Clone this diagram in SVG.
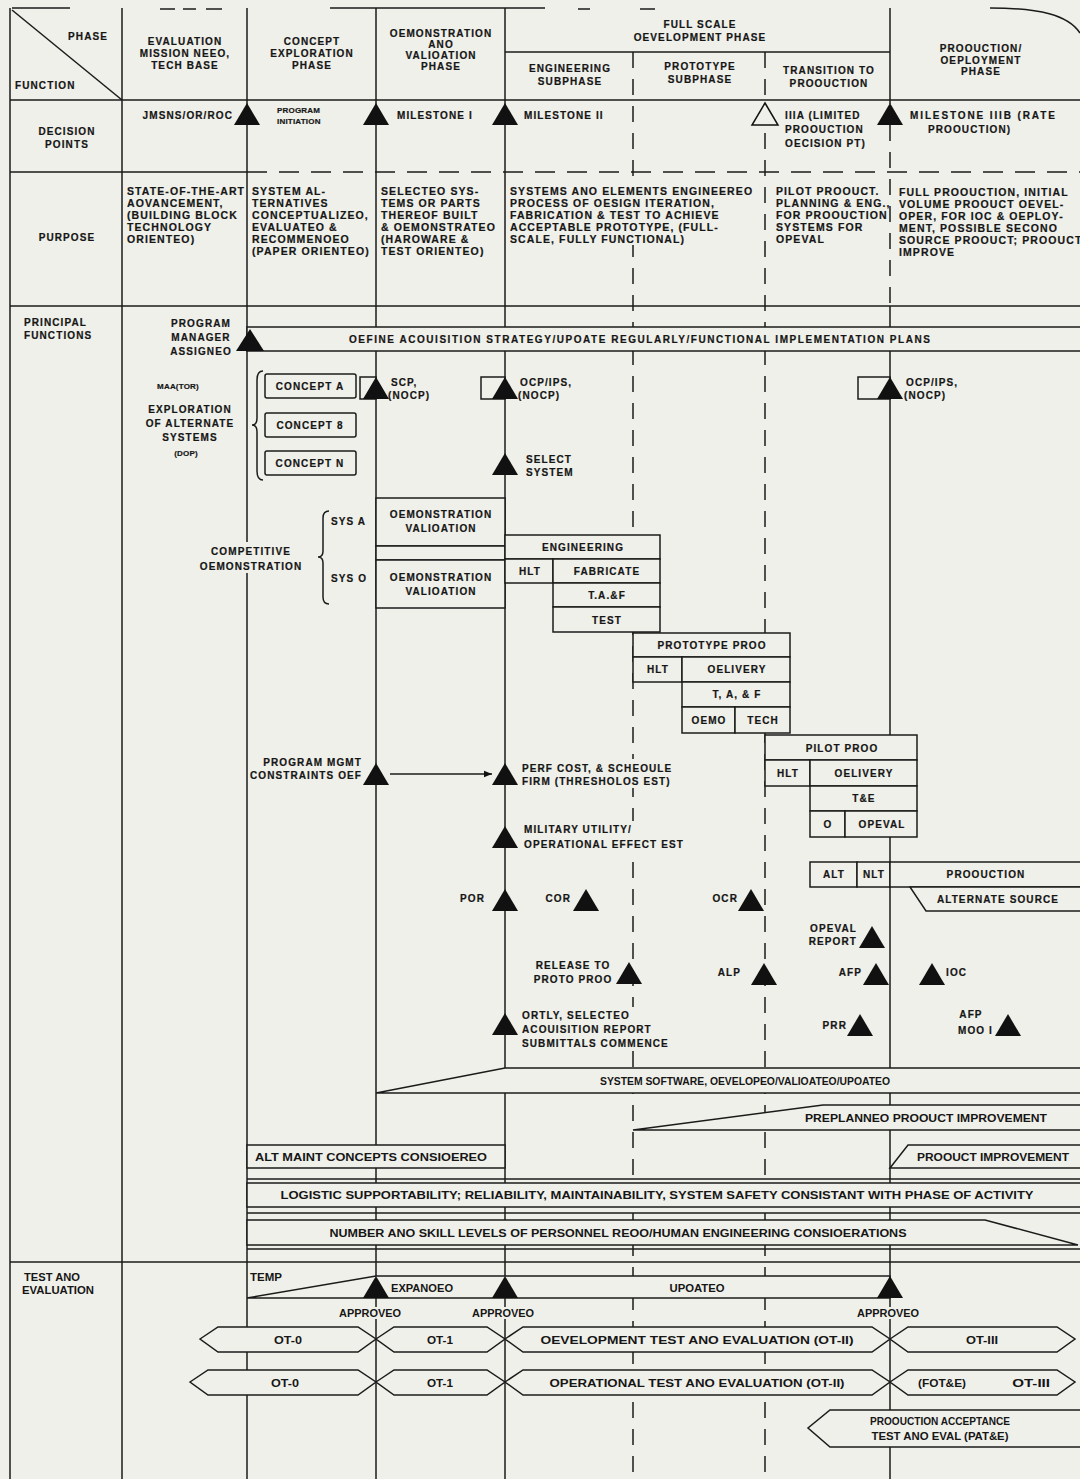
<svg xmlns="http://www.w3.org/2000/svg" width="1080" height="1479" viewBox="0 0 1080 1479">
<style>
.t{font-family:"Liberation Sans",Arial,Helvetica,sans-serif;font-weight:bold;font-size:10px;letter-spacing:1.1px;fill:#161616;stroke:#161616;stroke-width:0.2}
.m{text-anchor:middle}
.e{text-anchor:end}
.p{font-size:10.5px;letter-spacing:1.1px}
.s{font-size:8px;letter-spacing:0.2px}
.c{font-family:"Liberation Sans",Arial,Helvetica,sans-serif;font-weight:bold;font-size:11px;fill:#161616}
.l{stroke:#1b1b1b;stroke-width:1.5;fill:none}
.d{stroke-dasharray:16 11}
.b{fill:#f0f0ea;stroke:#1b1b1b;stroke-width:1.5}
.g{fill:#f0f0ea}
.k{fill:#111}
.o{fill:#f0f0ea;stroke:#111;stroke-width:1.5}
</style>
<defs>
<path id="tri" d="M0 0 L13 22 L-13 22 Z"/>
<marker id="ah" viewBox="0 0 10 10" refX="10" refY="5" markerWidth="10" markerHeight="8" orient="auto" markerUnits="userSpaceOnUse"><path d="M0 1 L10 5 L0 9 Z" fill="#111"/></marker>
</defs>
<rect width="1080" height="1479" fill="#f0f0ea"/>

<g id="grid">
<path class="l" d="M10 8 V1479 M122 8 V1479 M247 8 V1479 M376 8 V1479 M505 8 V1479"/>
<path class="l" d="M10 100 H1080 M10 306 H1080 M505 52 H890 M890 8 V104 M890 306 V1479 M10 172 H247"/>
<path class="l" style="stroke-dasharray:20 12" d="M247 172 H1080"/>
<path class="l d" d="M633 52 V1479 M765 52 V1479 M890 125 V306"/>
<path class="l" stroke-width="2" d="M10 1262 H1080"/>
<path class="l" d="M12 8 H70 M330 8 H545 M990 8 C1040 8 1068 15 1080 33"/>
<path class="l" stroke="#888" stroke-width="1" d="M160 9 H175 M183 9 H196 M206 9 H222 M578 9 H590 M640 9 H655"/>
</g>

<g id="header">
<path class="l" d="M12 10 L122 100"/>
<text class="t e" x="108" y="40">PHASE</text>
<text class="t" x="15" y="89">FUNCTION</text>
<text class="t m" x="185" y="45">EVALUATION</text>
<text class="t m" x="185" y="57">MISSION NEEO,</text>
<text class="t m" x="185" y="69">TECH BASE</text>
<text class="t m" x="312" y="45">CONCEPT</text>
<text class="t m" x="312" y="57">EXPLORATION</text>
<text class="t m" x="312" y="69">PHASE</text>
<text class="t m" x="441" y="37">OEMONSTRATION</text>
<text class="t m" x="441" y="48">ANO</text>
<text class="t m" x="441" y="59">VALIOATION</text>
<text class="t m" x="441" y="70">PHASE</text>
<text class="t m" x="700" y="28">FULL SCALE</text>
<text class="t m" x="700" y="41">OEVELOPMENT PHASE</text>
<text class="t m" x="570" y="72">ENGINEERING</text>
<text class="t m" x="570" y="85">SUBPHASE</text>
<text class="t m" x="700" y="70">PROTOTYPE</text>
<text class="t m" x="700" y="83">SUBPHASE</text>
<text class="t m" x="829" y="74">TRANSITION TO</text>
<text class="t m" x="829" y="87">PROOUCTION</text>
<text class="t m" x="981" y="52">PROOUCTION/</text>
<text class="t m" x="981" y="64">OEPLOYMENT</text>
<text class="t m" x="981" y="75">PHASE</text>
</g>

<g id="decision-points">
<text class="t m" x="67" y="135">DECISION</text>
<text class="t m" x="67" y="148">POINTS</text>
<text class="t e" x="233" y="119">JMSNS/OR/ROC</text>
<use href="#tri" class="k" x="247" y="103"/>
<text class="t s" x="277" y="113">PROGRAM</text>
<text class="t s" x="277" y="124">INITIATION</text>
<use href="#tri" class="k" x="376" y="103"/>
<text class="t" x="397" y="119">MILESTONE I</text>
<use href="#tri" class="k" x="505" y="103"/>
<text class="t" x="524" y="119">MILESTONE II</text>
<use href="#tri" class="o" x="765" y="103"/>
<text class="t" x="785" y="119">IIIA (LIMITED</text>
<text class="t" x="785" y="133">PROOUCTION</text>
<text class="t" x="785" y="147">OECISION PT)</text>
<use href="#tri" class="k" x="890" y="103"/>
<text class="t" x="910" y="119" textLength="146">MILESTONE IIIB (RATE</text>
<text class="t" x="928" y="133">PROOUCTION)</text>
</g>

<g id="purpose">
<rect class="g" x="507" y="183" width="252" height="62"/>
<text class="t m" x="67" y="241">PURPOSE</text>
<text class="t p" x="127" y="195">STATE-OF-THE-ART</text>
<text class="t p" x="127" y="207">AOVANCEMENT,</text>
<text class="t p" x="127" y="219">(BUILDING BLOCK</text>
<text class="t p" x="127" y="231">TECHNOLOGY</text>
<text class="t p" x="127" y="243">ORIENTEO)</text>
<text class="t p" x="252" y="195">SYSTEM AL-</text>
<text class="t p" x="252" y="207">TERNATIVES</text>
<text class="t p" x="252" y="219">CONCEPTUALIZEO,</text>
<text class="t p" x="252" y="231">EVALUATEO &amp;</text>
<text class="t p" x="252" y="243">RECOMMENOEO</text>
<text class="t p" x="252" y="255">(PAPER ORIENTEO)</text>
<text class="t p" x="381" y="195">SELECTEO SYS-</text>
<text class="t p" x="381" y="207">TEMS OR PARTS</text>
<text class="t p" x="381" y="219">THEREOF BUILT</text>
<text class="t p" x="381" y="231">&amp; OEMONSTRATEO</text>
<text class="t p" x="381" y="243">(HAROWARE &amp;</text>
<text class="t p" x="381" y="255">TEST ORIENTEO)</text>
<text class="t p" x="510" y="195">SYSTEMS ANO ELEMENTS ENGINEEREO</text>
<text class="t p" x="510" y="207">PROCESS OF OESIGN ITERATION,</text>
<text class="t p" x="510" y="219">FABRICATION &amp; TEST TO ACHIEVE</text>
<text class="t p" x="510" y="231">ACCEPTABLE PROTOTYPE, (FULL-</text>
<text class="t p" x="510" y="243">SCALE, FULLY FUNCTIONAL)</text>
<text class="t p" x="776" y="195">PILOT PROOUCT.</text>
<text class="t p" x="776" y="207">PLANNING &amp; ENG.,</text>
<text class="t p" x="776" y="219">FOR PROOUCTION</text>
<text class="t p" x="776" y="231">SYSTEMS FOR</text>
<text class="t p" x="776" y="243">OPEVAL</text>
<text class="t p" x="899" y="196">FULL PROOUCTION, INITIAL</text>
<text class="t p" x="899" y="208">VOLUME PROOUCT OEVEL-</text>
<text class="t p" x="899" y="220">OPER, FOR IOC &amp; OEPLOY-</text>
<text class="t p" x="899" y="232">MENT, POSSIBLE SECONO</text>
<text class="t p" x="899" y="244">SOURCE PROOUCT; PROOUCT</text>
<text class="t p" x="899" y="256">IMPROVE</text>
</g>

<g id="principal-label">
<text class="t" x="24" y="326">PRINCIPAL</text>
<text class="t" x="24" y="339">FUNCTIONS</text>
</g>

<g id="acquisition-strategy">
<rect class="b" x="247" y="327" width="834" height="24"/>
<path class="k" d="M250 329 L264 351 L236 351 Z"/>
<text class="t m" x="201" y="327">PROGRAM</text>
<text class="t m" x="201" y="341">MANAGER</text>
<text class="t m" x="201" y="355">ASSIGNEO</text>
<text class="t m" x="640" y="343" textLength="582">OEFINE ACOUISITION STRATEGY/UPOATE REGULARLY/FUNCTIONAL IMPLEMENTATION PLANS</text>
</g>

<g id="concept-exploration">
<text class="t s m" x="178" y="389">MAA(TOR)</text>
<text class="t m" x="190" y="413">EXPLORATION</text>
<text class="t m" x="190" y="427">OF ALTERNATE</text>
<text class="t m" x="190" y="441">SYSTEMS</text>
<text class="t s m" x="186" y="456">(DOP)</text>
<path class="l" d="M263 371 Q257 371 257 380 L257 418 Q257 425 252 425 Q257 425 257 432 L257 471 Q257 480 263 480"/>
<rect class="b" x="265" y="374" width="91" height="24" rx="2"/>
<text class="t m" x="310" y="390">CONCEPT A</text>
<rect class="b" x="265" y="413" width="91" height="24" rx="2"/>
<text class="t m" x="310" y="429">CONCEPT 8</text>
<rect class="b" x="265" y="451" width="91" height="24" rx="2"/>
<text class="t m" x="310" y="467">CONCEPT N</text>
</g>

<g id="scp">
<rect class="b" x="360" y="377" width="16" height="22"/>
<use href="#tri" class="k" x="376" y="377"/>
<text class="t" x="391" y="386">SCP,</text>
<text class="t" x="388" y="399">(NOCP)</text>
</g>
<g id="dcp-ms2">
<rect class="b" x="481" y="377" width="24" height="22"/>
<use href="#tri" class="k" x="505" y="377"/>
<text class="t" x="520" y="386">OCP/IPS,</text>
<text class="t" x="518" y="399">(NOCP)</text>
</g>
<g id="dcp-ms3">
<rect class="b" x="858" y="377" width="32" height="22"/>
<use href="#tri" class="k" x="890" y="377"/>
<text class="t" x="906" y="386">OCP/IPS,</text>
<text class="t" x="904" y="399">(NOCP)</text>
</g>
<g id="select-system">
<use href="#tri" class="k" x="505" y="453"/>
<text class="t" x="526" y="463">SELECT</text>
<text class="t" x="526" y="476">SYSTEM</text>
</g>

<g id="competitive-demo">
<rect class="g" x="196" y="542" width="108" height="31"/>
<text class="t m" x="251" y="555">COMPETITIVE</text>
<text class="t m" x="251" y="570">OEMONSTRATION</text>
<path class="l" d="M329 511 Q323 511 323 518 L323 551 Q323 557 318 557 Q323 557 323 563 L323 597 Q323 604 329 604"/>
<text class="t" x="331" y="525">SYS A</text>
<text class="t" x="331" y="582">SYS O</text>
<rect class="b" x="376" y="498" width="129" height="48"/>
<text class="t m" x="441" y="518">OEMONSTRATION</text>
<text class="t m" x="441" y="532">VALIOATION</text>
<rect class="b" x="376" y="546" width="129" height="14"/>
<rect class="b" x="376" y="560" width="129" height="48"/>
<text class="t m" x="441" y="581">OEMONSTRATION</text>
<text class="t m" x="441" y="595">VALIOATION</text>
</g>

<g id="engineering">
<rect class="b" x="505" y="535" width="155" height="24"/>
<text class="t m" x="583" y="551">ENGINEERING</text>
<rect class="b" x="505" y="559" width="48" height="24"/>
<text class="t m" x="530" y="575">HLT</text>
<rect class="b" x="553" y="559" width="107" height="24"/>
<text class="t m" x="607" y="575">FABRICATE</text>
<rect class="b" x="553" y="583" width="107" height="24"/>
<text class="t m" x="607" y="599">T.A.&amp;F</text>
<rect class="b" x="553" y="607" width="107" height="25"/>
<text class="t m" x="607" y="624">TEST</text>
</g>

<g id="prototype">
<rect class="b" x="633" y="633" width="157" height="24"/>
<text class="t m" x="712" y="649">PROTOTYPE PROO</text>
<rect class="b" x="633" y="657" width="49" height="25"/>
<text class="t m" x="658" y="673">HLT</text>
<rect class="b" x="682" y="657" width="108" height="25"/>
<text class="t m" x="737" y="673">OELIVERY</text>
<rect class="b" x="682" y="682" width="108" height="25"/>
<text class="t m" x="737" y="698">T, A, &amp; F</text>
<rect class="b" x="682" y="707" width="53" height="26"/>
<text class="t m" x="709" y="724">OEMO</text>
<rect class="b" x="735" y="707" width="55" height="26"/>
<text class="t m" x="763" y="724">TECH</text>
</g>

<g id="pilot">
<rect class="b" x="765" y="735" width="152" height="25"/>
<text class="t m" x="842" y="752">PILOT PROO</text>
<rect class="b" x="765" y="760" width="45" height="26"/>
<text class="t m" x="788" y="777">HLT</text>
<rect class="b" x="810" y="760" width="107" height="26"/>
<text class="t m" x="864" y="777">OELIVERY</text>
<rect class="b" x="810" y="786" width="107" height="25"/>
<text class="t m" x="864" y="802">T&amp;E</text>
<rect class="b" x="810" y="811" width="35" height="26"/>
<text class="t m" x="828" y="828">O</text>
<rect class="b" x="845" y="811" width="72" height="26"/>
<text class="t m" x="882" y="828">OPEVAL</text>
</g>

<g id="production">
<rect class="b" x="810" y="862" width="47" height="25"/>
<text class="t m" x="834" y="878">ALT</text>
<rect class="b" x="857" y="862" width="33" height="25"/>
<text class="t m" x="874" y="878">NLT</text>
<path class="b" d="M1081 862 H890 V887 H1081"/>
<text class="t m" x="986" y="878">PROOUCTION</text>
<path class="b" d="M1081 887 H910 L926 911 H1081"/>
<text class="t m" x="998" y="903">ALTERNATE SOURCE</text>
</g>

<g id="milestones">
<text class="t e" x="362" y="766">PROGRAM MGMT</text>
<text class="t e" x="362" y="779">CONSTRAINTS OEF</text>
<use href="#tri" class="k" x="376" y="763"/>
<use href="#tri" class="k" x="505" y="763"/>
<rect class="g" x="520" y="759" width="162" height="29"/>
<text class="t" x="522" y="772">PERF COST, &amp; SCHEOULE</text>
<text class="t" x="522" y="785">FIRM (THRESHOLOS EST)</text>
<use href="#tri" class="k" x="505" y="826"/>
<rect class="g" x="522" y="821" width="170" height="31"/>
<text class="t" x="524" y="833">MILITARY UTILITY/</text>
<text class="t" x="524" y="848">OPERATIONAL EFFECT EST</text>
<text class="t e" x="485" y="902">POR</text>
<use href="#tri" class="k" x="505" y="889"/>
<text class="t e" x="571" y="902">COR</text>
<use href="#tri" class="k" x="586" y="889"/>
<text class="t e" x="738" y="902">OCR</text>
<use href="#tri" class="k" x="751" y="889"/>
<text class="t m" x="573" y="969">RELEASE TO</text>
<text class="t m" x="573" y="983">PROTO PROO</text>
<use href="#tri" class="k" x="629" y="962"/>
<text class="t e" x="741" y="976">ALP</text>
<use href="#tri" class="k" x="764" y="963"/>
<text class="t e" x="857" y="932">OPEVAL</text>
<text class="t e" x="857" y="945">REPORT</text>
<use href="#tri" class="k" x="872" y="926"/>
<text class="t e" x="862" y="976">AFP</text>
<use href="#tri" class="k" x="876" y="963"/>
<use href="#tri" class="k" x="932" y="963"/>
<text class="t" x="946" y="976">IOC</text>
<text class="t e" x="847" y="1029">PRR</text>
<use href="#tri" class="k" x="860" y="1014"/>
<text class="t m" x="971" y="1018">AFP</text>
<text class="t e" x="993" y="1034">MOO I</text>
<use href="#tri" class="k" x="1008" y="1014"/>
<use href="#tri" class="k" x="505" y="1013"/>
<rect class="g" x="520" y="1007" width="152" height="44"/>
<text class="t" x="522" y="1019">ORTLY, SELECTEO</text>
<text class="t" x="522" y="1033">ACOUISITION REPORT</text>
<text class="t" x="522" y="1047">SUBMITTALS COMMENCE</text>
</g>

<g id="connectors">
<path class="l" d="M390 774 H492" marker-end="url(#ah)"/>
</g>

<g id="support-bars">
<path class="b" d="M376 1093 L505 1068 H1081 V1093 Z"/>
<text class="c m" x="745" y="1085" textLength="290" lengthAdjust="spacingAndGlyphs">SYSTEM SOFTWARE, OEVELOPEO/VALIOATEO/UPOATEO</text>
<path class="b" d="M633 1130 L823 1105 H1081 V1130 Z"/>
<text class="c m" x="926" y="1122" textLength="242" lengthAdjust="spacingAndGlyphs">PREPLANNEO PROOUCT IMPROVEMENT</text>
<rect class="b" x="247" y="1145" width="258" height="23"/>
<text class="c m" x="371" y="1161" textLength="232" lengthAdjust="spacingAndGlyphs">ALT MAINT CONCEPTS CONSIOEREO</text>
<path class="b" d="M890 1168 L908 1145 H1081 V1168 Z"/>
<text class="c m" x="993" y="1161" textLength="152" lengthAdjust="spacingAndGlyphs">PROOUCT IMPROVEMENT</text>
<path class="l" d="M247 1179 H1080 M247 1213 H1080 M247 1249 H1080"/>
<rect class="b" x="247" y="1183" width="834" height="24"/>
<text class="c m" x="657" y="1199" textLength="753" lengthAdjust="spacingAndGlyphs">LOGISTIC SUPPORTABILITY; RELIABILITY, MAINTAINABILITY, SYSTEM SAFETY CONSISTANT WITH PHASE OF ACTIVITY</text>
<path class="b" d="M247 1220 H985 L1078 1245 H247 Z"/>
<text class="c m" x="618" y="1237" textLength="577" lengthAdjust="spacingAndGlyphs">NUMBER ANO SKILL LEVELS OF PERSONNEL REOO/HUMAN ENGINEERING CONSIOERATIONS</text>
</g>

<g id="test-evaluation">
<text class="c" x="24" y="1281" textLength="56" lengthAdjust="spacingAndGlyphs">TEST ANO</text>
<text class="c" x="22" y="1294" textLength="72" lengthAdjust="spacingAndGlyphs">EVALUATION</text>
<text class="c" x="250" y="1281" textLength="32" lengthAdjust="spacingAndGlyphs">TEMP</text>
<path class="b" d="M247 1298 L376 1276 H890 V1298 Z"/>
<use href="#tri" class="k" x="376" y="1276"/>
<use href="#tri" class="k" x="505" y="1276"/>
<use href="#tri" class="k" x="890" y="1276"/>
<text class="c m" x="422" y="1292" textLength="62" lengthAdjust="spacingAndGlyphs">EXPANOEO</text>
<text class="c m" x="697" y="1292" textLength="55" lengthAdjust="spacingAndGlyphs">UPOATEO</text>
<rect class="g" x="339" y="1307" width="62" height="12"/>
<rect class="g" x="472" y="1307" width="62" height="12"/>
<rect class="g" x="857" y="1307" width="62" height="12"/>
<text class="c m" x="370" y="1317" textLength="62" lengthAdjust="spacingAndGlyphs">APPROVEO</text>
<text class="c m" x="503" y="1317" textLength="62" lengthAdjust="spacingAndGlyphs">APPROVEO</text>
<text class="c m" x="888" y="1317" textLength="62" lengthAdjust="spacingAndGlyphs">APPROVEO</text>
</g>

<g id="ot-row1">
<path class="b" d="M200 1339 L218 1327 H358 L376 1339 L358 1352 H218 Z"/>
<text class="c m" x="288" y="1344" textLength="28" lengthAdjust="spacingAndGlyphs">OT-0</text>
<path class="b" d="M376 1339 L394 1327 H487 L505 1339 L487 1352 H394 Z"/>
<text class="c m" x="440" y="1344" textLength="26" lengthAdjust="spacingAndGlyphs">OT-1</text>
<path class="b" d="M505 1339 L523 1327 H872 L890 1339 L872 1352 H523 Z"/>
<text class="c m" x="697" y="1344" textLength="313" lengthAdjust="spacingAndGlyphs">OEVELOPMENT TEST ANO EVALUATION (OT-II)</text>
<path class="b" d="M890 1339 L908 1327 H1057 L1075 1339 L1057 1352 H908 Z"/>
<text class="c m" x="982" y="1344" textLength="32" lengthAdjust="spacingAndGlyphs">OT-III</text>
</g>
<g id="ot-row2">
<path class="b" d="M190 1382 L208 1370 H358 L376 1382 L358 1395 H208 Z"/>
<text class="c m" x="285" y="1387" textLength="28" lengthAdjust="spacingAndGlyphs">OT-0</text>
<path class="b" d="M376 1382 L394 1370 H487 L505 1382 L487 1395 H394 Z"/>
<text class="c m" x="440" y="1387" textLength="26" lengthAdjust="spacingAndGlyphs">OT-1</text>
<path class="b" d="M505 1382 L523 1370 H872 L890 1382 L872 1395 H523 Z"/>
<text class="c m" x="697" y="1387" textLength="295" lengthAdjust="spacingAndGlyphs">OPERATIONAL TEST ANO EVALUATION (OT-II)</text>
<path class="b" d="M890 1382 L908 1370 H1057 L1075 1382 L1057 1395 H908 Z"/>
<text class="c" y="1387"><tspan x="918" textLength="48" lengthAdjust="spacingAndGlyphs">(FOT&amp;E)</tspan><tspan x="1008" textLength="42" lengthAdjust="spacingAndGlyphs"> OT-III</tspan></text>
</g>
<g id="pat-e">
<path class="b" d="M1081 1410 H830 L808 1428 L830 1447 H1081"/>
<text class="c m" x="940" y="1425" textLength="140" lengthAdjust="spacingAndGlyphs">PROOUCTION ACCEPTANCE</text>
<text class="c m" x="940" y="1440" textLength="137" lengthAdjust="spacingAndGlyphs">TEST ANO EVAL (PAT&amp;E)</text>
</g>
</svg>
